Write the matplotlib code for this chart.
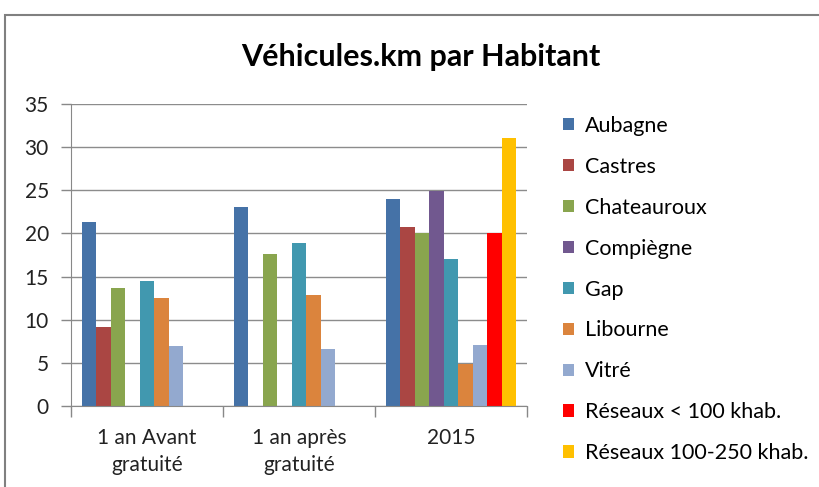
import numpy as np
import matplotlib
matplotlib.use("Agg")
import matplotlib.pyplot as plt
from matplotlib.patches import Rectangle

plt.rcParams['font.family'] = ['Lato', 'DejaVu Sans']

categories = ['1 an Avant\ngratuité', '1 an après\ngratuité', '2015']
series = ['Aubagne', 'Castres', 'Chateauroux', 'Compiègne', 'Gap', 'Libourne',
          'Vitré', 'Réseaux < 100 khab.', 'Réseaux 100-250 khab.']
nan = np.nan
aubagne = [21.3, 23.1, 24.0]
castres = [9.1, nan, 20.8]
chateauroux = [13.7, 17.6, 20.0]
compiegne = [nan, nan, 24.9]
gap = [14.5, 18.9, 17.0]
libourne = [12.5, 12.9, 4.9]
vitre = [7.0, 6.6, 7.1]
reseaux_100 = [nan, nan, 20.0]
reseaux_250 = [nan, nan, 31.1]
values = [aubagne, castres, chateauroux, compiegne, gap, libourne, vitre,
          reseaux_100, reseaux_250]
colors = ['#4572A7', '#AA4643', '#89A54E', '#71588F', '#4198AF', '#DB843D',
          '#93A9CF', '#FF0000', '#FFC000']

fig = plt.figure(figsize=(8.2, 4.87), dpi=100)
# chart frame
fig.patches.append(Rectangle((5/820, -0.1), 1.2, 1 - 15/487 + 0.1,
                             transform=fig.transFigure, fill=False,
                             edgecolor='#808080', linewidth=1.5))
ax = fig.add_axes([71/820, 1 - 406/487, 456/820, 302/487])

n = len(series)
w = 1.0 / (n + 1.5)
x = np.arange(len(categories))
for i, (name, vals, c) in enumerate(zip(series, values, colors)):
    pos = x - 0.5 + 0.75 * w + (i + 0.5) * w
    ax.bar(pos, vals, width=w, color=c, label=name, linewidth=0)

ax.set_xlim(-0.5, len(categories) - 0.5)
ax.set_ylim(0, 35)
ax.set_yticks(range(0, 36, 5))
ax.set_xticks(x)
ax.set_xticklabels(categories, fontsize=15, linespacing=1.45, color='#222222')
ax.tick_params(axis='x', length=0, pad=16)
ax.set_xticks(np.arange(-0.5, len(categories), 1.0), minor=True)
ax.tick_params(axis='x', which='minor', length=8, color='#888888', width=1)
ax.tick_params(axis='y', length=7, color='#888888', width=1, labelsize=15,
               pad=9, labelcolor='#222222')
ax.yaxis.grid(True, color='#8c8c8c', linewidth=1)
ax.set_axisbelow(True)
for s in ['top', 'right']:
    ax.spines[s].set_visible(False)
for s in ['left', 'bottom']:
    ax.spines[s].set_color('#888888')

fig.text(0.513, 1 - 57/487, 'Véhicules.km par Habitant', ha='center', va='center',
         fontsize=22, fontweight='bold')

ax.legend(loc='upper left', bbox_to_anchor=(563/820, 1 - 116/487),
          bbox_transform=fig.transFigure, frameon=False, fontsize=15.5,
          handlelength=0.5, handleheight=0.5, handletextpad=0.5,
          labelspacing=0.97, borderaxespad=0, borderpad=0)

fig.savefig('out.png', dpi=100)
